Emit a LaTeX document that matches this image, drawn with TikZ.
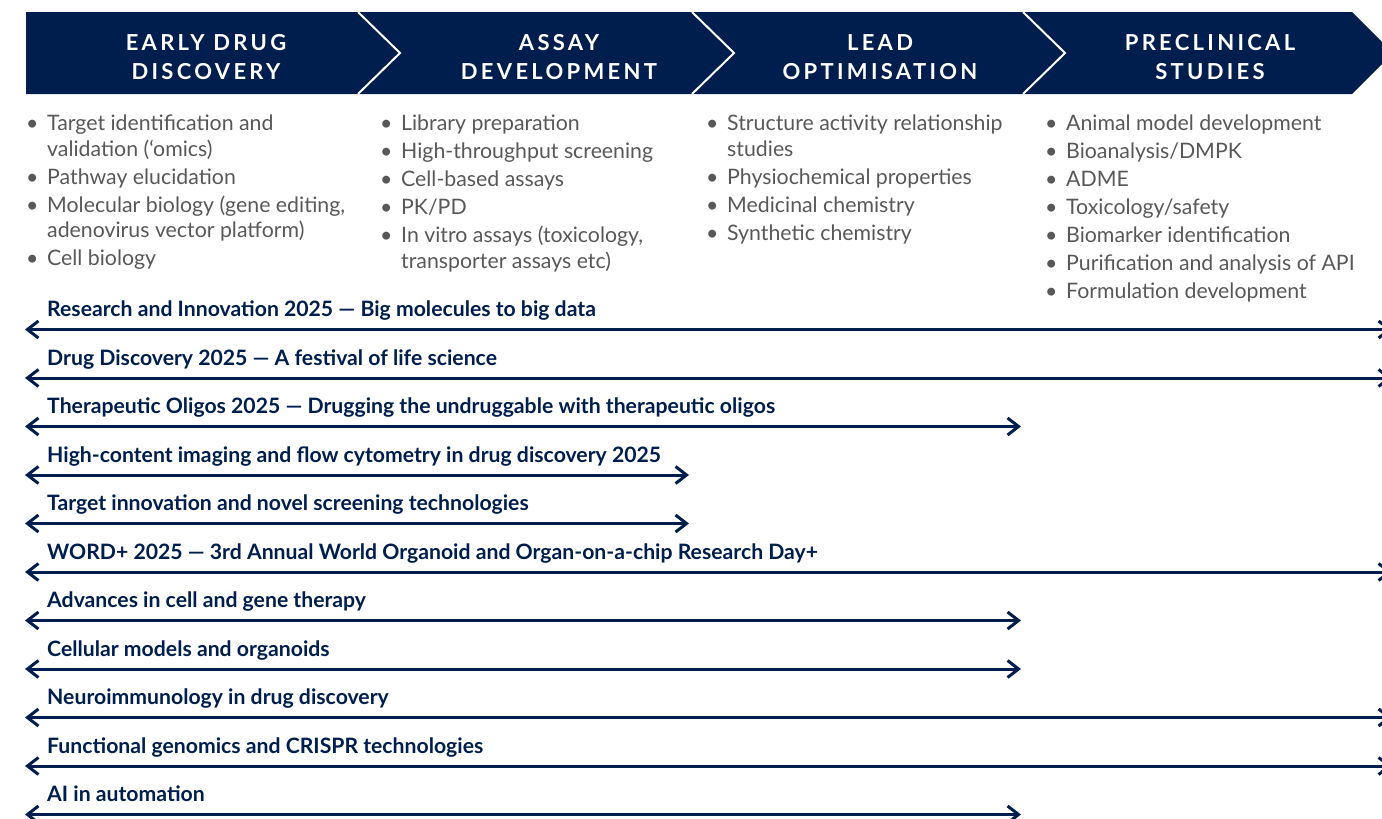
\documentclass[tikz,border=0pt]{standalone}
\usepackage{fontspec}
\setmainfont{Lato}
\newfontfamily\headFont{Lato}[LetterSpace=15]
\usepackage{tikz}
\usetikzlibrary{arrows.meta}
\definecolor{navyColor}{RGB}{0,30,77}
\definecolor{listColor}{RGB}{88,88,88}
\tikzstyle{chart} = [x = 1pt, y = -1pt]
\tikzstyle{headerFill} = [fill=navyColor]
\tikzstyle{chevronLine} = [draw=white, line width=2pt]
\tikzstyle{phaseText} = [text=white, font=\headFont\bfseries\fontsize{22}{29}\selectfont, align=center, inner sep=0]
\tikzstyle{phaseListText} = [text=listColor, font=\fontsize{21.3}{25.5}\selectfont, anchor=base west, inner sep=0]
\tikzstyle{eventLine} = [draw=navyColor, line width=3pt, <->, >={Straight Barb[length=11pt, width=17pt]}]
\tikzstyle{eventText} = [text=navyColor, font=\bfseries\fontsize{21.2}{24}\selectfont, anchor=base west, inner sep=0]
\newcommand{\phaseTitle}[3]{\node [phaseText] (#1) at (#2, 57) {#3};}
\newcommand{\phaseList}[3]{\node [phaseListText] (#1) at (#2, 130.5) {\begin{tabular}[t]{@{}p{21pt}@{}l@{}}#3\end{tabular}};}
\newcommand{\eventRow}[3]{
  \pgfmathsetmacro{\rowY}{329.5 + 48.5 * #1}
  \coordinate (eventStart#1) at (25, \rowY);
  \coordinate (eventEnd#1) at (#2, \rowY);
  \draw [eventLine] (eventStart#1) -- (eventEnd#1);
  \node [eventText] (eventLabel#1) at (47, \rowY - 13) {#3};
}

\begin{document}
\begin{tikzpicture}[chart]
  \useasboundingbox (0,0) rectangle (1382,819);
  % phase banner
  \fill [headerFill] (26,12) -- (1352,12) -- (1393,53) -- (1352,94) -- (26,94) -- cycle;
  \foreach \divX in {358,692,1023} {
    \draw [chevronLine] (\divX,12) -- (\divX + 42,53) -- (\divX,94);
  }
  \phaseTitle{earlyPhase}{206}{EARLY DRUG\\DISCOVERY}
  \phaseTitle{assayPhase}{559}{ASSAY\\DEVELOPMENT}
  \phaseTitle{leadPhase}{880}{LEAD\\OPTIMISATION}
  \phaseTitle{preclinicalPhase}{1210}{PRECLINICAL\\STUDIES}

  % phase contents
  \phaseList{earlyList}{26}{
    \textbullet & Target identification and\\
    & validation (‘omics)\\[2.5pt]
    \textbullet & Pathway elucidation\\[2.5pt]
    \textbullet & Molecular biology (gene editing,\\
    & adenovirus vector platform)\\[2.5pt]
    \textbullet & Cell biology}
  \phaseList{assayList}{380}{
    \textbullet & Library preparation\\[2.5pt]
    \textbullet & High-throughput screening\\[2.5pt]
    \textbullet & Cell-based assays\\[2.5pt]
    \textbullet & PK/PD\\[2.5pt]
    \textbullet & In vitro assays (toxicology,\\
    & transporter assays etc)}
  \phaseList{leadList}{706}{
    \textbullet & Structure activity relationship\\
    & studies\\[2.5pt]
    \textbullet & Physiochemical properties\\[2.5pt]
    \textbullet & Medicinal chemistry\\[2.5pt]
    \textbullet & Synthetic chemistry}
  \phaseList{preclinicalList}{1045}{
    \textbullet & Animal model development\\[2.5pt]
    \textbullet & Bioanalysis/DMPK\\[2.5pt]
    \textbullet & ADME\\[2.5pt]
    \textbullet & Toxicology/safety\\[2.5pt]
    \textbullet & Biomarker identification\\[2.5pt]
    \textbullet & Purification and analysis of API\\[2.5pt]
    \textbullet & Formulation development}

  % events
  \eventRow{0}{1392}{Research and Innovation 2025 — Big molecules to big data}
  \eventRow{1}{1392}{Drug Discovery 2025 — A festival of life science}
  \eventRow{2}{1021}{Therapeutic Oligos 2025 — Drugging the undruggable with therapeutic oligos}
  \eventRow{3}{689}{High-content imaging and flow cytometry in drug discovery 2025}
  \eventRow{4}{689}{Target innovation and novel screening technologies}
  \eventRow{5}{1392}{WORD+ 2025 — 3rd Annual World Organoid and Organ-on-a-chip Research Day+}
  \eventRow{6}{1021}{Advances in cell and gene therapy}
  \eventRow{7}{1021}{Cellular models and organoids}
  \eventRow{8}{1392}{Neuroimmunology in drug discovery}
  \eventRow{9}{1392}{Functional genomics and CRISPR technologies}
  \eventRow{10}{1021}{AI in automation}
\end{tikzpicture}
\end{document}
